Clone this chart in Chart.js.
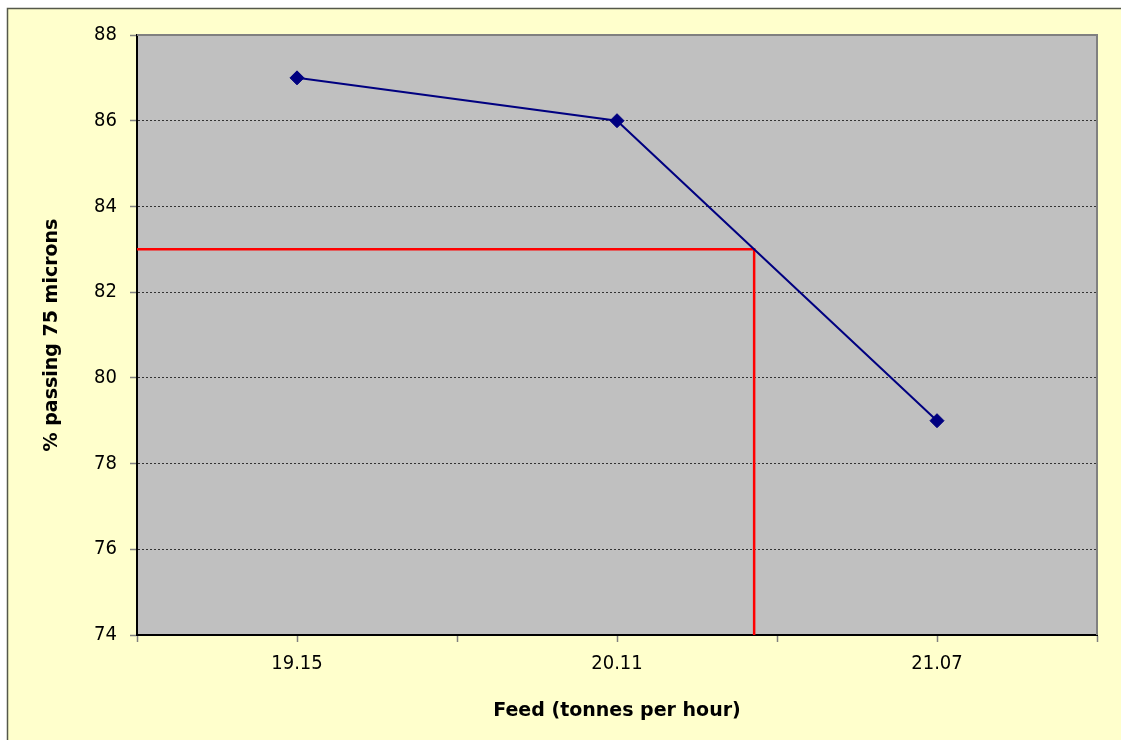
<!DOCTYPE html>
<html>
<head>
<meta charset="utf-8">
<title>Feed vs % passing 75 microns</title>
<script src="https://cdn.jsdelivr.net/npm/chart.js@4.4.1/dist/chart.umd.min.js"></script>
<style>
  html, body { margin: 0; padding: 0; background: #ffffff; }
  #wrap { position: relative; width: 1121px; height: 740px; }
  canvas { display: block; }
</style>
</head>
<body>
<div id="wrap"><canvas id="chart" width="1121" height="740"></canvas></div>
<script>
// Feed rates (tonnes per hour) and grind results
const feedLabels = ['19.15', '20.11', '21.07'];
const passingValues = [87, 86, 79];
const targetPassing = 83;
const yTicks = [74, 76, 78, 80, 82, 84, 86, 88];

// Feed position (in category units) where the curve crosses the target grind
function crossingIndex(values, target) {
  for (let i = 0; i < values.length - 1; i++) {
    const a = values[i], b = values[i + 1];
    if ((a - target) * (b - target) <= 0 && a !== b) {
      return i + (a - target) / (a - b);
    }
  }
  return null;
}
const targetX = crossingIndex(passingValues, targetPassing);

const TICK_FONT = "'DejaVu Sans Condensed', 'DejaVu Sans', sans-serif";
const TITLE_FONT = "'DejaVu Sans', sans-serif";

const panelPlugin = {
  id: 'panel',
  beforeDraw(chart) {
    const { ctx, chartArea: a } = chart;
    ctx.save();
    // outer chart frame
    ctx.fillStyle = '#ffffcc';
    ctx.fillRect(7, 8, chart.width - 7, chart.height - 8);
    ctx.strokeStyle = '#55584a';
    ctx.lineWidth = 1.5;
    ctx.beginPath();
    ctx.moveTo(7.5, chart.height);
    ctx.lineTo(7.5, 8.5);
    ctx.lineTo(chart.width, 8.5);
    ctx.stroke();
    // plot area fill
    ctx.fillStyle = '#c0c0c0';
    ctx.fillRect(a.left, a.top, a.right - a.left, a.bottom - a.top);
    ctx.restore();
  },
  beforeDatasetsDraw(chart) {
    const { ctx, chartArea: a } = chart;
    ctx.save();
    ctx.strokeStyle = '#808080';
    ctx.lineWidth = 2;
    ctx.beginPath();
    ctx.moveTo(a.left, a.top);
    ctx.lineTo(a.right, a.top);
    ctx.lineTo(a.right, a.bottom);
    ctx.stroke();
    ctx.restore();
  }
};

new Chart(document.getElementById('chart'), {
  type: 'line',
  data: {
    datasets: [
      {
        label: 'Target',
        data: [
          { x: -0.5, y: targetPassing },
          { x: targetX, y: targetPassing },
          { x: targetX, y: yTicks[0] }
        ],
        borderColor: '#ff0000',
        borderWidth: 2.5,
        pointRadius: 0,
        fill: false,
        tension: 0,
        order: 2
      },
      {
        label: '% passing 75 microns',
        data: passingValues.map((v, i) => ({ x: i, y: v })),
        borderColor: '#000080',
        backgroundColor: '#000080',
        borderWidth: 2,
        pointStyle: 'rectRot',
        pointRadius: 7,
        pointHoverRadius: 7,
        pointBorderWidth: 1,
        pointBorderColor: '#000080',
        pointBackgroundColor: '#000080',
        fill: false,
        tension: 0,
        order: 1
      }
    ]
  },
  options: {
    responsive: false,
    animation: false,
    events: [],
    layout: { padding: { left: 0, top: 35, right: 24, bottom: 0 } },
    plugins: {
      legend: { display: false },
      tooltip: { enabled: false },
      title: { display: false }
    },
    scales: {
      x: {
        type: 'linear',
        min: -0.5,
        max: feedLabels.length - 0.5,
        afterFit(scale) { scale.height = 105; },
        afterBuildTicks(scale) {
          const t = [];
          for (let v = -0.5; v <= feedLabels.length - 0.5 + 1e-9; v += 0.5) t.push({ value: v });
          scale.ticks = t;
        },
        ticks: {
          autoSkip: false,
          maxRotation: 0,
          padding: 10,
          color: '#000000',
          font: { family: TICK_FONT, size: 20 },
          callback(value) {
            const i = Math.round(value);
            return Math.abs(value - i) < 1e-6 && feedLabels[i] !== undefined ? feedLabels[i] : '';
          }
        },
        grid: {
          drawOnChartArea: false,
          drawTicks: true,
          tickLength: 7,
          tickColor: '#808080',
          tickWidth: 1.5
        },
        border: { display: true, color: '#000000', width: 2 },
        title: {
          display: true,
          text: 'Feed (tonnes per hour)',
          color: '#000000',
          font: { family: TITLE_FONT, size: 19, weight: 'bold' },
          padding: { top: 0, bottom: 17.5 }
        }
      },
      y: {
        type: 'linear',
        min: yTicks[0],
        max: yTicks[yTicks.length - 1],
        afterFit(scale) { scale.width = 137; },
        afterBuildTicks(scale) { scale.ticks = yTicks.map(v => ({ value: v })); },
        ticks: {
          padding: 13,
          color: '#000000',
          font: { family: TICK_FONT, size: 20 }
        },
        grid: {
          drawTicks: true,
          tickLength: 7,
          tickColor: '#808080',
          tickWidth: 1.5,
          color(ctx) {
            const v = ctx.tick && ctx.tick.value;
            return (v === yTicks[0] || v === yTicks[yTicks.length - 1]) ? 'rgba(0,0,0,0)' : '#333333';
          },
          lineWidth: 1
        },
        border: { display: true, color: '#000000', width: 2, dash: [2, 2] },
        title: {
          display: true,
          text: '% passing 75 microns',
          color: '#000000',
          font: { family: TITLE_FONT, size: 19, weight: 'bold' },
          padding: { top: 40.5, bottom: 0 }
        }
      }
    }
  },
  plugins: [panelPlugin]
});
</script>
</body>
</html>
